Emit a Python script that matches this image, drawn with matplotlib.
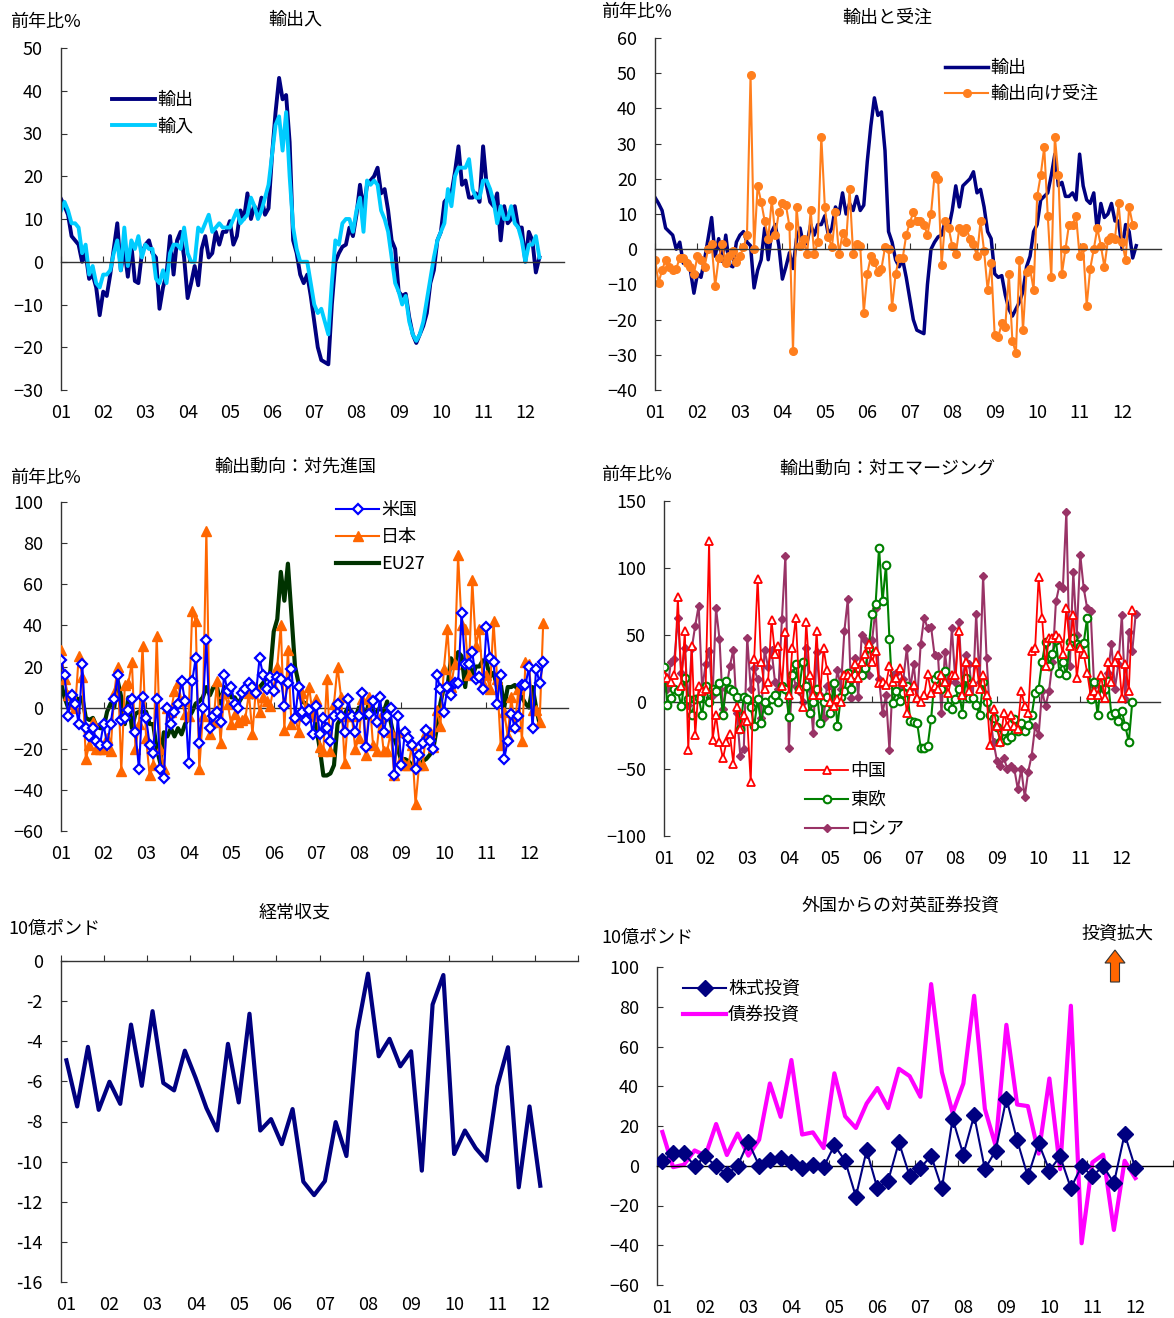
import numpy as np
import matplotlib
matplotlib.use('Agg')
import matplotlib.pyplot as plt
from matplotlib.patches import FancyArrow
from matplotlib.lines import Line2D

plt.rcParams['font.family'] = ['Noto Sans CJK JP', 'DejaVu Sans']
plt.rcParams['axes.unicode_minus'] = True

W, H = 1174, 1318
FS = 13
YEARS = ['01', '02', '03', '04', '05', '06', '07', '08', '09', '10', '11', '12']

# monthly, y/y %  (2001/01 -)
exports = [14.7, 13, 11, 6, 5, 4, 0, 2, -4, -3,
           -6, -12.5, -7, -8, -3, 3, 9, -2, 3, -3.5,
           4, -4.5, -5, 2, 4, 5, 2, 1, -11, -6,
           -3, 6, -3, 5, 7, 1, -8.5, -5, -1, -5.5,
           3, 6, 1, 2, 7, 4, 7, 7, 9.5, 4,
           6, 12, 10, 16, 10, 13, 11, 15, 11, 12.5,
           25, 35, 43, 38, 39, 28, 5, 2, -3, -5,
           -3, -8, -14, -20, -23, -23.5, -24, -10, 0, 2,
           3.5, 4, 8, 6, 11, 18, 12, 18, 19, 20,
           22, 16, 17, 12, 5, 3, -7, -8, -7.5, -13,
           -17, -19, -17, -15, -12, -5, -2, 5, 7, 14,
           15, 16, 21, 27, 18, 19, 15, 15, 16, 14,
           27, 18, 14, 13, 16, 5, 13, 9, 10, 13,
           8, 8, 0, 7, 5, -2.5, 1]
imports = [12, 14, 12, 9, 9, 8, 2, 4, -3, -1,
           -5, -6, -3, -3, -2, 2, 5, -2, 8, -1,
           5, 3, 6, 1, 4, 3, 3, -4, -5, -2,
           -5, 2, 4, 4, 3, 8, 2, 0, 0, 8,
           7, 9, 11, 7, 8, 9, 8, 8, 8, 10,
           12, 9, 10, 11, 15, 13, 10, 12, 15, 18,
           25, 32, 34, 26, 35, 20, 8, 3, 0, 0,
           0, -5, -10, -12, -11, -14, -17, -5, 5, 4,
           9, 10, 10, 7, 12, 15, 7, 19, 18, 19,
           18, 12, 10, 7, 1, -5, -7, -10, -8, -14,
           -17, -18.5, -17, -14, -9, -4, 1, 5, 7, 9,
           17, 13, 20, 22, 22, 22, 24, 17, 15, 15,
           19, 19, 17, 14, 9, 13, 10, 10, 13, 9,
           8, 5, 0, 4, 4, 6, 1]
export_orders = [-3, -9.5, -6, -3, -5, -6, -5.5, -2.5, -2.5, -4,
                 -5, -7, -2, -3, -5, 0, 1.5, -10.5, -2.5, 1.5,
                 -4, -2, -0.5, -3.5, -2, 0.5, 4, 49.5, 0, 18,
                 13.5, 8, 3, 14, 4, 10.5, 13, 12.5, 6.5, -29,
                 12, 1, 3, -1.5, 11, -1.5, 2, 32, 12, 3.5,
                 0.5, 10.5, -1.5, 4.5, 2, 17, -1.5, 1.5, 1, -18,
                 -7, -2, -3.5, -6.5, -5.5, 0.5, 0, -16.5, -7, -2.5,
                 -2.5, 4, 7.5, 10.5, 8, 8, 7, 4, 10, 21,
                 20, -4.5, 8, 6, 1, -1.5, 6, 5, 6, 3,
                 1.5, -2, 8, -0.5, -11.5, -4, -24.5, -25, -21, -22,
                 -7, -26, -29.5, -3, -23, -6.5, -5.5, -11.5, 15, 21,
                 29, 9.5, -8, 32, 21, -7, 0, 7, 7, 9.5,
                 -2, 0.5, -16, -5.5, 0, 6, 1, -5, 2.5, 3.5,
                 3, 13, 2, -3, 12, 7]

to_us = [23, 16, -4, 6, 2, -8, 21, -10, -14, -10,
         -16, -18, -8, -18, -8, 4, 16, -6, -5, -1,
         4, -12, -30, 5, -5, -18, -22, 4, -30, -34,
         0, -8, -2, 2, 13, 3, -27, 13, 24, -17,
         0, 33, -10, -4, -2, -7, 16, 8, 10, 2,
         0, 7, 9, 12, 10, 7, 24, 16, 9, 15,
         8, 15, 14, 1, 12, 19, -5, 10, -2, -6,
         -1, -13, 1, -13, -5, -10, -16, -4, 2, -4,
         -12, 4, -4, -12, -4, 7, -19, -3, 3, -7,
         5, -12, -4, 0, -33, -4, -28, -12, -15, -18,
         -30, -23, -17, -11, -16, -20, 16, 9, -2, 10,
         6, 12, 12, 46, 21, 21, 27, 14, 15, 9,
         39, 24, 22, 2, 16, -25, -16, -3, -10, -4,
         11, 11, 20, -10, 19, 12, 22]
to_japan = [28, 14, 6, 2, 0, 25, 15, -25, -18, -7,
            -20, -20, -20, -15, -21, 7, 20, -31, 11, 12,
            22, -20, -8, 30, -15, -33, -28, 35, -20, -30,
            0, -2, 8, 12, 3, -3, -4, 47, 42, -30,
            -4, 86, -13, -7, 13, -17, 7, 2, -8, -3,
            -7, -6, -5, 7, -13, 10, -2, 5, 3, 1,
            10, 20, 40, -11, 28, -8, -4, -12, 7, -1,
            10, -4, 4, -19, -21, 14, -21, 2, 20, 5,
            -27, -4, -4, -20, -15, 4, -23, 5, -18, -21,
            -5, -21, -21, -12, -33, -12, -25, -28, -28, -18,
            -47, -28, -28, -12, -12, -19, -1, -9, 19, 38,
            10, 21, 74, 40, 38, 16, 62, 30, 38, 12,
            16, 9, 42, 14, -18, -2, -14, 5, -9, 9,
            -16, 22, 21, -1, -1, -7, 41]
to_eu27 = [12, 5, 0, 3, 5, 4, 5, -5, -6, -5,
           -9, -10, -10, -2, 2, 0, 13, 5, -8, 5,
           -10, -3, -2, -2, -2, -8, -8, -20, -27, -12,
           -14, -10, -14, -10, -13, -8, -5, -2, 2, 3,
           5, 10, 6, 10, 10, 2, 10, 8, 5, 5,
           2, 5, 10, 8, 5, 8, 10, 12, 15, 17,
           37, 43, 66, 52, 70, 45, 20, 12, 3, 2,
           0, -2, -10, -20, -33, -33, -32, -28, -8, -5,
           -3, 0, -2, -5, 0, 0, -5, 5, -2, -2,
           0, -2, 3, -7, -15, -20, -26, -25, -26, -28,
           -30, -30, -26, -25, -23, -20, -10, 2, 10, 10,
           24, 21, 27, 25, 10, 24, 15, 20, 20, 23,
           22, 15, 17, 10, 12, 0, 10, 10, 11, 8,
           5, 2, 0, 10, 0, -8]

to_china = [20, 18, 15, 20, 78, 12, 53, -36, 42, -25,
            12, 8, 10, 120, -28, -10, -30, -42, -30, -24,
            -46, -4, -20, -10, -14, -60, 32, 92, 30, 10,
            15, 61, 36, 42, 12, 52, 5, 40, 63, 10,
            -4, 60, 20, 5, 53, 5, 40, 24, 0, -3,
            2, 0, 20, 20, 18, 28, 18, 30, 36, 43,
            30, 38, 14, 15, 13, 27, 15, 18, 25, 15,
            -8, 8, 13, 3, 0, 5, 21, 7, 12, 10,
            20, 15, 7, 20, 20, 53, 5, 30, 8, 15,
            30, 10, 20, 5, -32, -5, -18, -30, -8, -18,
            -10, -18, -20, 8, -3, -8, 38, 40, 93, 63,
            27, 48, 48, 50, 48, 36, 70, 42, 65, 18,
            40, 36, 22, 5, 8, 5, 20, 3, 30, 15,
            30, 35, 3, 28, 8, 69]
to_east_europe = [26, -2, 3, 10, 8, -3, 18, 2, -10, 2,
                  3, -10, 12, 0, 10, 8, 14, -10, 16, 10,
                  8, 4, -20, 4, 2, -4, -18, 2, -16, 0,
                  -6, 2, 5, 0, 12, 10, -11, 20, 28, 10,
                  30, 12, -8, 0, 10, -16, 0, 4, -8, 14,
                  -18, 4, 8, 22, 10, 20, 25, 20, 25, 40,
                  66, 73, 115, 75, 102, 47, -1, 8, 1, 7,
                  12, -14, -15, -16, -34, -34, -33, -13, 17, 20,
                  10, 23, -3, -5, 2, 10, -9, 18, 3, 3,
                  -2, -10, 15, 0, -10, -12, -19, -30, -22, -28,
                  -26, -13, -22, -16, -22, -17, -10, 7, 10, 30,
                  45, 27, 36, 46, 22, 30, 20, 45, 48, 43,
                  42, 44, 63, 2, 15, -10, 15, 10, 16, -10,
                  -8, -14, -7, -18, -30, 0]
to_russia = [20, 10, 30, 32, 63, 22, 40, -2, 40, 57,
             72, 10, 28, 38, 5, 70, 47, -5, 10, 27,
             39, -8, -40, -35, 48, 10, 25, 17, -12, 39,
             26, 39, 15, 10, 62, 109, -34, 22, 12, 8,
             0, 40, 10, -23, 37, 5, -12, 12, 13, 2,
             24, 10, 53, 77, 3, 33, 4, 50, 46, 20,
             46, 70, 17, -8, 5, -36, 20, 22, 10, 17,
             40, 10, 28, 2, 43, 63, 55, 56, 35, 34,
             -8, 37, 15, 55, 15, 60, 13, 35, 28, 2,
             66, 15, 94, 33, -10, -30, -44, -48, -42, -50,
             -48, -50, -65, -50, -71, -52, -40, -18, -25, 8,
             -3, 8, 30, 75, 87, 85, 142, 27, 97, 50,
             110, 85, 70, 68, 12, 15, 13, 8, 22, 43,
             10, 28, 65, 2, 52, 38, 66]

# quarterly, GBP bn  (2001Q1 - 2012Q1)
current_account = [-4.95, -7.25, -4.28, -7.42, -6.02, -7.12, -3.17, -6.22, -2.5, -6.08,
                   -6.45, -4.47, -5.83, -7.33, -8.45, -4.13, -7.05, -2.63, -8.45, -7.88,
                   -9.13, -7.38, -11.0, -11.67, -10.97, -8.03, -9.72, -3.5, -0.63, -4.75,
                   -3.88, -5.25, -4.5, -10.45, -2.17, -0.7, -9.62, -8.45, -9.33, -9.95,
                   -6.25, -4.3, -11.28, -7.25, -11.2]
equity_inflow = [2.5, 6.4, 6.4, 0, 4.7, -0.3, -4.2, 0, 12.1, 0,
                 3, 3.9, 1.7, -1.2, 0.5, -0.7, 10.3, 2.5, -15.5, 7.7,
                 -11.3, -7.6, 11.8, -5.1, -1.2, 5.1, -11.4, 23.6, 5.6, 25.3,
                 -1.7, 7.6, 33.8, 12.8, -5.4, 11.4, -2.4, 4.7, -11.3, 0,
                 -5.4, 0, -8.8, 16, -1.3]
bond_inflow = [17, -0.7, 0.5, 7.7, 5.1, 21, 5.4, 16.2, 5.1, 13.1,
               41.4, 24.6, 53.2, 15.7, 16.8, 8.9, 46.5, 24.9, 19, 31.3,
               39.1, 29, 48.8, 45.1, 34.7, 91.4, 47.1, 26.6, 41.4, 85.5,
               28.6, 10.1, 70.9, 30.8, 30, 6.1, 43.9, -1.7, 80.5, -39,
               1.7, 5.6, -32.3, 2.5, -6.2]

fig = plt.figure(figsize=(W / 100, H / 100), dpi=100)


def px_axes(l, t, r, b):
    return fig.add_axes([l / W, 1 - b / H, (r - l) / W, (b - t) / H])


def fig_text(x, y, s, ha='left'):
    fig.text(x / W, 1 - y / H, s, ha=ha, va='center', fontsize=FS)


def style(ax, ylim, ystep, quarterly=False, ascii_minus=False):
    if quarterly:
        ax.set_xlim(-0.5, 47.5)
        ticks = np.arange(-0.5, 48, 4)
        label_pos = np.arange(0, 48, 4)
    else:
        ax.set_xlim(0, 143)
        ticks = np.arange(0, 144, 12)
        label_pos = ticks
    ax.set_ylim(*ylim)
    for s in ('top', 'right'):
        ax.spines[s].set_visible(False)
    ax.spines['bottom'].set_position(('data', 0))
    for s in ('left', 'bottom'):
        ax.spines[s].set_color('#333333')
        ax.spines[s].set_linewidth(1)
    ax.set_xticks(ticks)
    ax.tick_params(axis='x', direction='in', length=4, color='#333333',
                   labelbottom=False)
    yt = np.arange(ylim[0], ylim[1] + ystep / 2, ystep)
    ax.set_yticks(yt)
    if ascii_minus:
        ax.set_yticklabels([f'{v:g}' for v in yt])
    ax.tick_params(axis='y', direction='in', length=4, color='#333333',
                   labelsize=FS, pad=13)
    sec = ax.secondary_xaxis(0)
    sec.set_xticks(label_pos, YEARS)
    sec.tick_params(length=0, labelsize=FS, pad=10)
    for s in sec.spines.values():
        s.set_visible(False)


def legend(ax, x, y, handles=None, labels=None, spacing=0.45):
    if handles is None:
        handles, labels = ax.get_legend_handles_labels()
    ax.legend(handles, labels, loc='upper left',
              bbox_to_anchor=(x / W, 1 - y / H), bbox_transform=fig.transFigure,
              frameon=False, fontsize=FS, handlelength=2.4, handletextpad=0.1,
              labelspacing=spacing, borderpad=0, borderaxespad=0)


NAVY = '#000080'

# --- 輸出入 ---
ax1 = px_axes(61, 48, 564, 390)
m = np.arange(len(exports))
ax1.plot(m, exports, color=NAVY, lw=2.8, label='輸出')
ax1.plot(np.arange(len(imports)), imports, color='#00CCFF', lw=2.8, label='輸入')
style(ax1, (-30, 50), 10)
legend(ax1, 112, 91)
fig_text(295, 20, '輸出入', ha='center')
fig_text(10, 22, '前年比%')

# --- 輸出と受注 ---
ax2 = px_axes(655, 38, 1161, 390)
ax2.plot(m, exports, color=NAVY, lw=2.5, label='輸出')
ax2.plot(np.arange(len(export_orders)), export_orders, color='#FF7F1E', lw=1.5,
         marker='o', ms=5.5, label='輸出向け受注')
style(ax2, (-40, 60), 10)
legend(ax2, 945, 59)
fig_text(887, 18, '輸出と受注', ha='center')
fig_text(601, 12, '前年比%')

# --- 輸出動向：対先進国 ---
ax3 = px_axes(61, 502, 568, 831)
ax3.plot(np.arange(len(to_eu27)), to_eu27, color='#003300', lw=3, zorder=2)
ax3.plot(np.arange(len(to_japan)), to_japan, color='#FF6600', lw=1.5,
         marker='^', ms=6.5, zorder=3)
ax3.plot(np.arange(len(to_us)), to_us, color='#0000FF', lw=1.5, marker='D',
         ms=5, mfc='white', mec='#0000FF', mew=1.6, zorder=4)
handles3 = [Line2D([], [], color='#0000FF', lw=1.5, marker='D', ms=5,
                   mfc='white', mec='#0000FF', mew=1.6),
            Line2D([], [], color='#FF6600', lw=1.5, marker='^', ms=6.5),
            Line2D([], [], color='#003300', lw=3)]
style(ax3, (-60, 100), 20)
legend(ax3, 336, 501, handles3, ['米国', '日本', 'EU27'], spacing=0.5)
fig_text(295, 467, '輸出動向：対先進国', ha='center')
fig_text(10, 478, '前年比%')

# --- 輸出動向：対エマージング ---
ax4 = px_axes(664, 501, 1160, 836)
ax4.plot(np.arange(len(to_russia)), to_russia, color='#993366', lw=1.5,
         marker='D', ms=4.5, label='ロシア', zorder=2)
ax4.plot(np.arange(len(to_east_europe)), to_east_europe, color='#008000', lw=1.5,
         marker='o', ms=5.5, mfc='white', mew=1.5, label='東欧', zorder=3)
ax4.plot(np.arange(len(to_china)), to_china, color='#FF0000', lw=1.3,
         marker='^', ms=6, mfc='white', mew=1.3, label='中国', zorder=4)
h4, l4 = ax4.get_legend_handles_labels()
style(ax4, (-100, 150), 50)
legend(ax4, 805, 762, h4[::-1], l4[::-1], spacing=0.62)
fig_text(887, 469, '輸出動向：対エマージング', ha='center')
fig_text(601, 475, '前年比%')

# --- 経常収支 ---
ax5 = px_axes(61, 961, 578, 1282)
ax5.plot(np.arange(len(current_account)), current_account, color=NAVY, lw=3)
style(ax5, (-16, 0), 2, quarterly=True, ascii_minus=True)
fig_text(295, 913, '経常収支', ha='center')
fig_text(8, 929, '10億ポンド')

# --- 外国からの対英証券投資 ---
ax6 = px_axes(657, 967, 1173, 1285)
ax6.plot(np.arange(len(bond_inflow)), bond_inflow, color='#FF00FF', lw=3,
         label='債券投資', zorder=2)
ax6.plot(np.arange(len(equity_inflow)), equity_inflow, color=NAVY, lw=1.5,
         marker='D', ms=8, label='株式投資', zorder=3)
h6, l6 = ax6.get_legend_handles_labels()
style(ax6, (-60, 100), 20, quarterly=True)
ax6.spines['bottom'].set_color('black')
legend(ax6, 683, 980, h6[::-1], l6[::-1])
fig_text(900, 906, '外国からの対英証券投資', ha='center')
fig_text(601, 938, '10億ポンド')
fig_text(1117, 934, '投資拡大', ha='center')
fig.add_artist(FancyArrow(1115 / W, 1 - 982 / H, 0, 32 / H, width=9 / W,
                          head_width=20 / W, head_length=13 / H,
                          length_includes_head=True, transform=fig.transFigure,
                          fc='#FF6600', ec='#333333', lw=0.8))

fig.savefig('out.png', dpi=100)
